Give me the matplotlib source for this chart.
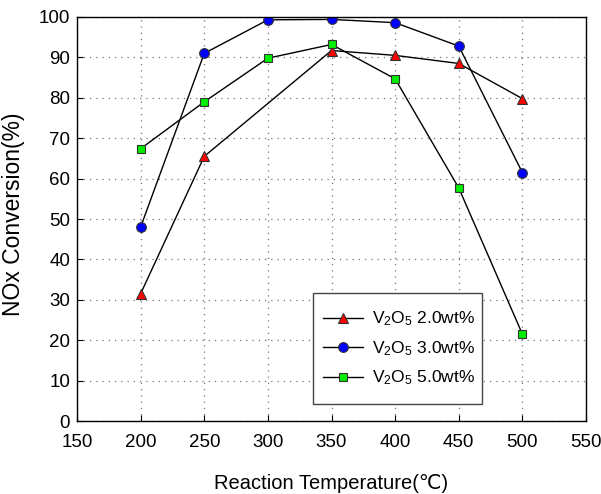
import matplotlib
matplotlib.use('Agg')
import matplotlib.pyplot as plt
from matplotlib.patches import Rectangle

plt.rcParams['font.family'] = ['Liberation Sans', 'DejaVu Sans']
plt.rcParams['mathtext.fontset'] = 'custom'
plt.rcParams['mathtext.rm'] = 'Liberation Sans'
plt.rcParams['mathtext.it'] = 'Liberation Sans'

# data
temp_red = [200, 250, 350, 400, 450, 500]
conv_red = [31.5, 65.5, 91.7, 90.5, 88.5, 79.8]
temp = [200, 250, 300, 350, 400, 450, 500]
conv_blue = [48.0, 91.0, 99.3, 99.4, 98.6, 92.8, 61.5]
conv_green = [67.4, 79.0, 89.8, 93.2, 84.7, 57.7, 21.5]
labels = [r'V$_2$O$_5$ 2.0wt%', r'V$_2$O$_5$ 3.0wt%', r'V$_2$O$_5$ 5.0wt%']

fig = plt.figure(figsize=(6.01, 4.94), dpi=100)
ax = fig.add_axes([77 / 601, 1 - 421 / 494, (586 - 77) / 601, (421 - 17) / 494])

ax.plot(temp_red, conv_red, '-', color='black', lw=1, marker='^', ms=7.5,
        mfc='red', mec='#333333', mew=0.8, label=labels[0])
ax.plot(temp, conv_blue, '-', color='black', lw=1, marker='o', ms=7,
        mfc='blue', mec='#333333', mew=0.8, label=labels[1])
ax.plot(temp, conv_green, '-', color='black', lw=1, marker='s', ms=5.5,
        mfc='#00ee00', mec='#333333', mew=0.8, label=labels[2])

ax.set_xlim(150, 550)
ax.set_ylim(0, 100)
ax.set_xticks(range(150, 551, 50))
ax.set_yticks(range(0, 101, 10))
ax.grid(True, linestyle=(0, (1, 4)), color='#777777', lw=0.9)
ax.tick_params(direction='in', length=4, labelsize=13.5, width=0.8)
ax.tick_params(axis='x', pad=9)
ax.tick_params(axis='y', pad=5)
for s in ax.spines.values():
    s.set_linewidth(1.0)

ax.set_xlabel('Reaction Temperature(℃)', fontsize=14.5, labelpad=17)
ax.set_ylabel('NOx Conversion(%)', fontsize=16.5)
ax.yaxis.set_label_coords(-0.102, 0.512)

# legend box drawn separately so its size matches the reference
box = ((313 - 77) / 509, (421 - 404) / 404, (482 - 313) / 509, (404 - 293) / 404)
ax.add_patch(Rectangle(box[:2], box[2], box[3], transform=ax.transAxes,
                       facecolor='white', edgecolor='#444444', lw=1.0, zorder=4.5))
ax.legend(loc='center left', bbox_to_anchor=box, mode='expand',
          fontsize=12.5, frameon=False, borderaxespad=0,
          handlelength=2.3, handletextpad=0.5, labelspacing=0.62,
          borderpad=0.6)

fig.savefig('out.png', dpi=100)
